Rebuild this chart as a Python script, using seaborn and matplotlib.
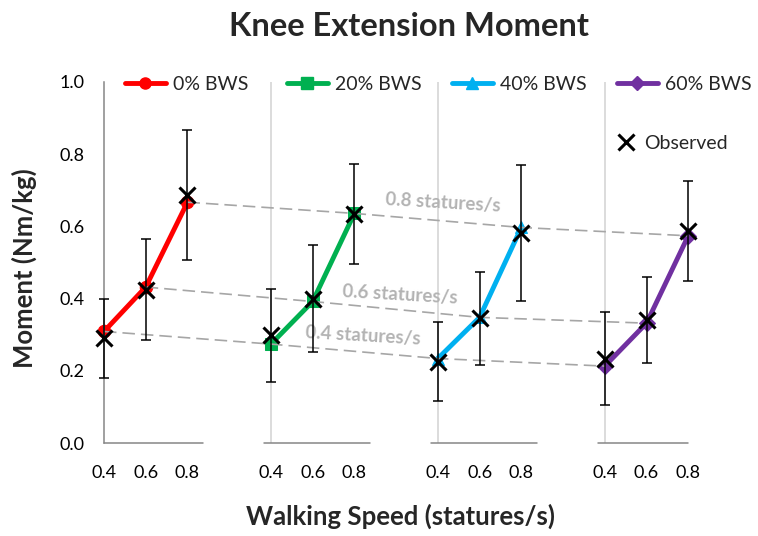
import numpy as np
import pandas as pd
import matplotlib
matplotlib.use("Agg")
import matplotlib.pyplot as plt
from matplotlib.lines import Line2D
import seaborn as sns

sns.set_style("white")
plt.rcParams["font.family"] = ["Lato", "DejaVu Sans"]

# Data
speeds = [0.4, 0.6, 0.8]
groups = ["0% BWS", "20% BWS", "40% BWS", "60% BWS"]
colors = ["#FF0000", "#00B050", "#00B0F0", "#7030A0"]
markers = ["o", "s", "^", "D"]
predicted = [
    [0.309, 0.432, 0.667],
    [0.274, 0.392, 0.636],
    [0.234, 0.348, 0.597],
    [0.213, 0.332, 0.574],
]
observed = [
    [0.290, 0.425, 0.687],
    [0.298, 0.400, 0.635],
    [0.225, 0.345, 0.581],
    [0.233, 0.341, 0.587],
]
observed_sd = [
    [0.110, 0.140, 0.180],
    [0.128, 0.149, 0.139],
    [0.109, 0.128, 0.189],
    [0.129, 0.120, 0.139],
]
speed_labels = ["0.4 statures/s", "0.6 statures/s", "0.8 statures/s"]
group_gap = 0.8

rows = []
for g, name in enumerate(groups):
    for s, sp in enumerate(speeds):
        rows.append({"group": name, "g": g, "speed": sp, "x": sp + g * group_gap,
                     "pred": predicted[g][s], "obs": observed[g][s], "sd": observed_sd[g][s]})
df = pd.DataFrame(rows)

W, H = 758, 536
fig = plt.figure(figsize=(W / 100, H / 100), dpi=100)
ax = fig.add_axes([104 / W, (H - 443) / H, 626 / W, 361 / H])

# vertical separators at group starts
for g in range(1, len(groups)):
    ax.plot([speeds[0] + g * group_gap] * 2, [0, 1.0], color="#d9d9d9", lw=1.3, zorder=0)

# model lines
handles = []
for g, name in enumerate(groups):
    sub = df[df["group"] == name]
    sns.lineplot(data=sub, x="x", y="pred", ax=ax, color=colors[g], marker=markers[g],
                 markersize=9 if markers[g] != "D" else 8, markeredgecolor=colors[g],
                 lw=3.5, zorder=2, clip_on=False, legend=False)
    handles.append(Line2D([], [], color=colors[g], lw=3.5, marker=markers[g],
                          markersize=8 if markers[g] != "D" else 7, markeredgecolor=colors[g]))

# same-speed dashed connectors
for s, sp in enumerate(speeds):
    sub = df[df["speed"] == sp]
    ax.plot(sub["x"], sub["pred"], color="#a6a6a6", lw=1.2, dashes=(7.5, 3.6), zorder=3)

# observed with error bars
eb = ax.errorbar(df["x"], df["obs"], yerr=df["sd"], fmt="none", ecolor="black",
                 elinewidth=1.1, capsize=3.3, capthick=1.1, zorder=4)
for art in eb.lines[1] + eb.lines[2]:
    art.set_clip_on(False)
ax.plot(df["x"], df["obs"], ls="none", marker="x", color="black", markersize=11, mew=2.2,
        zorder=5, clip_on=False)

# speed labels along dashed lines
label_pos = [(1.642, 0.296), (1.819, 0.41), (2.025, 0.665)]
for (lx, ly), txt in zip(label_pos, speed_labels):
    ax.text(lx, ly, txt, color="#b3b3b3", fontsize=13.5, fontweight="bold",
            rotation=-3.3, ha="center", va="center", rotation_mode="anchor", zorder=1)

ax.set_xlim(0.4, 3.4)
ax.set_ylim(0, 1.0)
yt = np.arange(0, 1.01, 0.2)
ax.set_yticks(yt)
ax.set_yticklabels([f"{v:.1f}" for v in yt])
ax.set_xticks(df["x"].tolist())
ax.set_xticklabels([f"{v:.1f}" for v in df["speed"]])
ax.tick_params(axis="both", labelsize=13, colors="#868686", labelcolor="black",
               direction="out", length=5, width=1.1)
ax.tick_params(axis="x", pad=11)
ax.tick_params(axis="y", pad=9)
for side in ["top", "right", "bottom"]:
    ax.spines[side].set_visible(False)
ax.spines["left"].set_color("#868686")
ax.spines["left"].set_linewidth(1.1)

# x axis segments per group
for g in range(len(groups)):
    x0 = speeds[0] + g * group_gap
    left = x0 if g == 0 else x0 - 0.034
    right = speeds[-1] + g * group_gap + (0 if g == len(groups) - 1 else 0.075)
    ax.plot([left, right], [0, 0], color="#868686", lw=1.1, clip_on=False, zorder=1)

ax.set_xlabel("")
ax.set_ylabel("")

# legend entries placed one by one across the top
legend_x = [125, 287, 452, 617]
for h, name, px in zip(handles, groups, legend_x):
    lg = ax.legend([h], [name], loc="center left", bbox_to_anchor=((px - 104) / 626, 0.994),
                   frameon=False, fontsize=14, handlelength=2.1, handletextpad=0.35,
                   borderaxespad=0, borderpad=0)
    ax.add_artist(lg)
obs_handle = Line2D([], [], ls="none", marker="x", color="black", markersize=11, mew=2.2)
ax.legend([obs_handle], ["Observed"], loc="center left", bbox_to_anchor=(0.822, 0.83),
          frameon=False, fontsize=14, handlelength=0.8, handletextpad=0.5,
          borderaxespad=0, borderpad=0)

fig.text(409 / W, 1 - 36 / H, "Knee Extension Moment", ha="center", va="baseline",
         fontsize=23.5, fontweight="bold")
fig.text(400 / W, 1 - 525 / H, "Walking Speed (statures/s)", ha="center", va="baseline",
         fontsize=18.5, fontweight="bold")
fig.text(24 / W, 1 - 268 / H, "Moment (Nm/kg)", ha="center", va="center",
         fontsize=18.5, fontweight="bold", rotation=90)

fig.savefig("out.png", dpi=100)
